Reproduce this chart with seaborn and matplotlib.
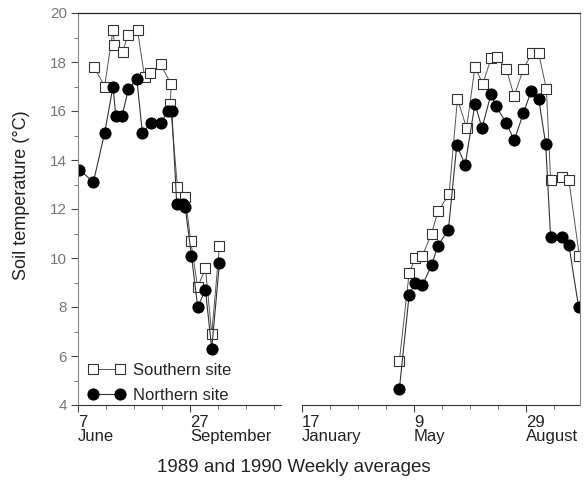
import matplotlib
matplotlib.use("Agg")
import matplotlib.pyplot as plt
import matplotlib.transforms as mtransforms
from matplotlib.ticker import FixedLocator
import seaborn as sns
import pandas as pd

# x values: weeks since 7 June 1989
south_week = [2.3, 3.8, 5.0, 5.2, 6.4, 7.1, 8.5, 9.5, 10.3, 11.8, 13.3, 13.2, 14.2, 15.3, 16.1, 17.1, 18.2, 19.1, 20.2,
              45.9, 47.3, 48.2, 49.2, 50.5, 51.4, 53.0, 54.2, 55.5, 56.7, 57.8, 59.0, 59.8, 61.2, 62.3, 63.6,
              64.8, 65.8, 66.9, 67.5, 69.1, 70.1, 71.6]
south_temp = [17.8, 17.0, 19.3, 18.7, 18.4, 19.1, 19.3, 17.4, 17.55, 17.9, 17.1, 16.3, 12.9, 12.5, 10.7, 8.8, 9.6, 6.9, 10.5,
              5.8, 9.4, 10.0, 10.1, 11.0, 11.9, 12.6, 16.5, 15.3, 17.8, 17.1, 18.15, 18.2, 17.7, 16.6, 17.7,
              18.35, 18.35, 16.9, 13.2, 13.3, 13.2, 10.1]
north_week = [0.2, 2.2, 3.8, 5.0, 5.4, 6.3, 7.2, 8.4, 9.2, 10.4, 11.8, 12.85, 13.4, 14.1, 15.0, 15.3, 16.2, 17.1, 18.2, 19.1, 20.2,
              45.9, 47.3, 48.2, 49.2, 50.5, 51.4, 52.9, 54.1, 55.3, 56.7, 57.7, 59.0, 59.7, 61.2, 62.3, 63.6,
              64.7, 65.8, 66.8, 67.5, 69.1, 70.1, 71.5]
north_temp = [13.6, 13.1, 15.1, 17.0, 15.8, 15.8, 16.9, 17.3, 15.1, 15.5, 15.5, 16.0, 16.0, 12.2, 12.2, 12.1, 10.1, 8.0, 8.7, 6.3, 9.8,
              4.65, 8.5, 9.0, 8.9, 9.7, 10.5, 11.15, 14.6, 13.8, 16.3, 15.3, 16.7, 16.2, 15.5, 14.8, 15.9,
              16.8, 16.5, 14.65, 10.85, 10.85, 10.55, 8.0]

tick_weeks = [0, 16, 32, 48, 64]
tick_labels = ["7\nJune", "27\nSeptember", "17\nJanuary", "9\nMay", "29\nAugust"]
minor_weeks = [4, 8, 12, 20, 24, 28, 36, 40, 44, 52, 56, 60, 68]
y_ticks = [4, 6, 8, 10, 12, 14, 16, 18, 20]

sns.set_style("ticks")
plt.rcParams['font.family'] = ['Liberation Sans', 'DejaVu Sans']

fig = plt.figure(figsize=(5.88, 4.87), dpi=100)
ax = fig.add_axes([78/588, 1-405/487, (580-78)/588, (405-13)/487])

df_s = pd.DataFrame({"week": south_week, "temp": south_temp})
df_n = pd.DataFrame({"week": north_week, "temp": north_temp})

for df, kw in [
    (df_s, dict(marker="s", markersize=7, markerfacecolor="white", markeredgecolor="#333333",
                markeredgewidth=0.8, color="#555555", linewidth=0.7, label="Southern site")),
    (df_n, dict(marker="o", markersize=8, markerfacecolor="black", markeredgecolor="black",
                color="#333333", linewidth=0.8, label="Northern site")),
]:
    first = True
    for part in (df[df.week < 30], df[df.week > 30]):
        k = dict(kw)
        if not first:
            k.pop("label")
        sns.lineplot(data=part, x="week", y="temp", sort=False, estimator=None, ax=ax, **k)
        first = False

ax.set_xlim(0, 71.7)
ax.set_ylim(4, 20)
ax.set_xticks(tick_weeks)
ax.set_xticklabels(tick_labels, ha="left", fontsize=12, color="#222222", linespacing=0.95)
ax.xaxis.set_minor_locator(FixedLocator(minor_weeks))
offset = mtransforms.ScaledTranslation(-4/100, -2/100, fig.dpi_scale_trans)
for lab in ax.get_xticklabels():
    lab.set_transform(lab.get_transform() + offset)
ax.set_yticks(y_ticks)
ax.set_yticklabels([str(v) for v in y_ticks], fontsize=11, color="#777777")
ax.yaxis.set_minor_locator(FixedLocator([5, 7, 9, 11, 13, 15, 17, 19]))
ax.tick_params(axis="both", which="major", direction="out", length=5, width=0.8, color="#444444", pad=3)
ax.tick_params(axis="both", which="minor", direction="out", length=3, width=0.6, color="#666666")
ax.tick_params(axis="x", which="major", pad=2)

ax.set_xlabel("")
ax.set_ylabel("")
for s in ["top", "right", "left", "bottom"]:
    ax.spines[s].set_visible(True)
ax.spines["top"].set_color("#222222")
ax.spines["top"].set_linewidth(0.9)
ax.spines["right"].set_color("#888888")
ax.spines["right"].set_linewidth(0.8)
ax.spines["left"].set_color("#888888")
ax.spines["left"].set_linewidth(0.8)
ax.spines["bottom"].set_bounds(0, 29)
ax.spines["bottom"].set_color("#333333")
ax.spines["bottom"].set_linewidth(0.8)
ax.plot([32, 71.7], [4, 4], color="#333333", linewidth=0.8, clip_on=False)

leg = ax.legend(loc="lower left", bbox_to_anchor=(-0.006, -0.028), frameon=False, numpoints=2,
                fontsize=12, handlelength=2.2, handletextpad=0.5, labelspacing=0.6,
                borderaxespad=0.4)

fig.text(22/588, 1-195/487, "Soil temperature (°C)", rotation=90, ha="center", va="center",
         fontsize=13, color="#222222")
fig.text(294/588, 1-468/487, "1989 and 1990 Weekly averages", ha="center", va="center",
         fontsize=13.5, color="#222222")

fig.savefig("out.png", dpi=100)
